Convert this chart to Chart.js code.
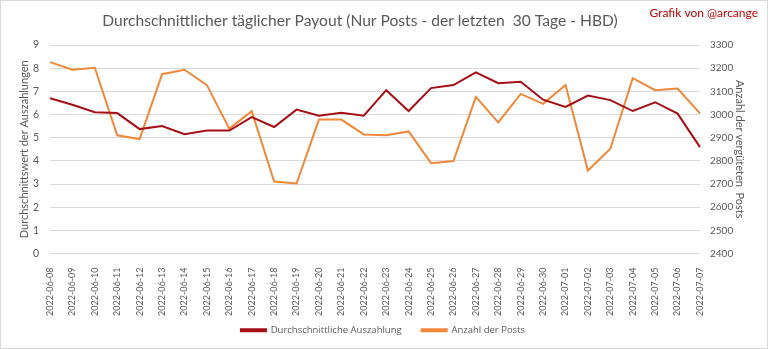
<!DOCTYPE html>
<html>
<head>
<meta charset="utf-8">
<script src="https://cdn.jsdelivr.net/npm/chart.js@4/dist/chart.umd.min.js"></script>
<style>
  html, body { margin: 0; padding: 0; background: #ffffff; }
  #wrap { width: 768px; height: 349px; }
</style>
</head>
<body>
<div id="wrap"><canvas id="chart" width="768" height="349"></canvas></div>
<script>
// Days covered (last 30 days)
const dates = [
  '2022-06-08','2022-06-09','2022-06-10','2022-06-11','2022-06-12','2022-06-13',
  '2022-06-14','2022-06-15','2022-06-16','2022-06-17','2022-06-18','2022-06-19',
  '2022-06-20','2022-06-21','2022-06-22','2022-06-23','2022-06-24','2022-06-25',
  '2022-06-26','2022-06-27','2022-06-28','2022-06-29','2022-06-30','2022-07-01',
  '2022-07-02','2022-07-03','2022-07-04','2022-07-05','2022-07-06','2022-07-07'
];

// Average payout per post (HBD)
const avgPayout = [
  6.70, 6.42, 6.10, 6.06, 5.37, 5.50, 5.15, 5.31, 5.31, 5.89,
  5.46, 6.21, 5.95, 6.07, 5.95, 7.05, 6.15, 7.14, 7.27, 7.82,
  7.35, 7.41, 6.64, 6.33, 6.82, 6.62, 6.15, 6.53, 6.04, 4.59
];

// Number of rewarded posts
const postCount = [
  3226, 3193, 3202, 2910, 2894, 3174, 3193, 3127, 2939, 3014,
  2711, 2702, 2978, 2978, 2914, 2910, 2927, 2790, 2799, 3076,
  2966, 3089, 3046, 3127, 2758, 2852, 3157, 3105, 3112, 3005
];

// Axis ranges
const payoutRange = [0, 9];
const postRange = [2400, 3300];

const TEXT = '#595959';
const GRID = '#d9d9d9';
const FONT = 'Lato';

const decorations = {
  id: 'decorations',
  beforeDraw(chart) {
    const ctx = chart.ctx;
    ctx.save();
    ctx.fillStyle = '#ffffff';
    ctx.fillRect(0, 0, chart.width, chart.height);
    ctx.restore();
  },
  afterDraw(chart) {
    const ctx = chart.ctx;
    ctx.save();
    // frame
    ctx.strokeStyle = GRID;
    ctx.lineWidth = 1;
    ctx.strokeRect(0.5, 0.5, chart.width - 1, chart.height - 1);
    // heading
    ctx.fillStyle = TEXT;
    ctx.font = '15.6px ' + FONT;
    ctx.textAlign = 'center';
    ctx.textBaseline = 'middle';
    ctx.fillText('Durchschnittlicher täglicher Payout (Nur Posts - der letzten  30 Tage - HBD)', 360, 21);
    // credit
    ctx.fillStyle = '#c00000';
    ctx.font = '12px ' + FONT;
    ctx.textAlign = 'right';
    ctx.fillText('Grafik von @arcange', 758, 13);
    ctx.restore();
  }
};

new Chart(document.getElementById('chart'), {
  type: 'line',
  data: {
    labels: dates,
    datasets: [
      {
        label: 'Durchschnittliche Auszahlung',
        data: avgPayout,
        yAxisID: 'y',
        borderColor: '#a50f15',
        backgroundColor: '#a50f15',
        borderWidth: 2,
        pointRadius: 0,
        tension: 0
      },
      {
        label: 'Anzahl der Posts',
        data: postCount,
        yAxisID: 'y1',
        borderColor: '#f0883a',
        backgroundColor: '#f0883a',
        borderWidth: 2,
        pointRadius: 0,
        tension: 0
      }
    ]
  },
  options: {
    responsive: false,
    animation: false,
    devicePixelRatio: 1,
    layout: { padding: { top: 45, left: 0, right: 2, bottom: 4 } },
    plugins: {
      title: { display: false },
      tooltip: { enabled: false },
      legend: {
        position: 'bottom',
        labels: {
          boxWidth: 25,
          boxHeight: 2,
          padding: 20,
          color: TEXT,
          font: { family: 'Open Sans', size: 9.5 }
        }
      }
    },
    scales: {
      x: {
        grid: { display: false },
        border: { display: false },
        ticks: {
          autoSkip: false,
          minRotation: 90,
          maxRotation: 90,
          padding: 6,
          color: TEXT,
          font: { family: FONT, size: 9 }
        },
        afterFit(scale) {
          // compact axis box; the rotated dates may run into the legend's top padding
          scale.height = 52;
          scale._computeLabelArea = () => undefined;
        }
      },
      y: {
        position: 'left',
        min: payoutRange[0],
        max: payoutRange[1],
        grid: { color: GRID, lineWidth: 1, drawTicks: false },
        border: { display: false },
        ticks: { stepSize: 1, padding: 11, color: TEXT, font: { family: FONT, size: 10.5 } },
        title: {
          display: true,
          text: 'Durchschnittswert der Auszahlungen',
          color: TEXT,
          font: { family: FONT, size: 11 },
          padding: { top: 18, bottom: 0 }
        },
        afterFit(scale) { scale.width = 50; }
      },
      y1: {
        position: 'right',
        min: postRange[0],
        max: postRange[1],
        grid: { display: false, drawTicks: false },
        border: { display: false },
        ticks: {
          stepSize: 100,
          padding: 10,
          color: TEXT,
          font: { family: FONT, size: 10 },
          callback: (v) => String(v)
        },
        title: {
          display: true,
          text: 'Anzahl der vergüteten  Posts',
          color: TEXT,
          font: { family: FONT, size: 11 },
          padding: { top: 20, bottom: 0 }
        },
        afterFit(scale) { scale.width = 66; }
      }
    }
  },
  plugins: [decorations]
});
</script>
</body>
</html>
